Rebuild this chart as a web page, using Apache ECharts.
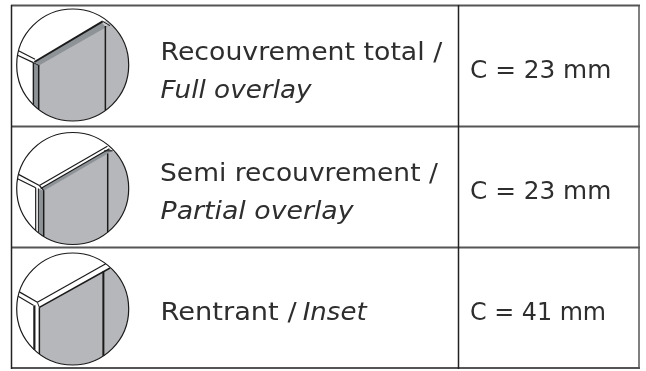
<!DOCTYPE html>
<html><head><meta charset="utf-8">
<style>html,body{margin:0;padding:0;background:#fff}#c{width:646px;height:371px}</style>
<script src="https://cdn.jsdelivr.net/npm/echarts@6/dist/echarts.min.js"></script>
</head><body><div id="c"></div>
<script>
const mainLabels = ["Recouvrement total /", "Semi recouvrement /", "Rentrant /"];
const italicLabels = ["Full overlay", "Partial overlay", "Inset"];
const clearances = ["C = 23 mm", "C = 23 mm", "C = 41 mm"];

const FONT = '"DejaVu Sans"', INK = '#1b1b1b', TXT = '#2e2e2e', DOOR = '#b6b7ba', STRIP = '#8e9398', EDGE = '#c9cbcd';
const R = 56, CX = 72.7, CY = [65, 188.5, 309];
const ZC = [[218,195],[218,205],[218,208]];

const art = [
 { polys: [
    [DOOR, [[100,188],[305,65],[335,72],[400,100],[400,370],[100,370]]],
    [STRIP,[[105,186],[305,67],[330,75],[118,196]]],
    [STRIP,[[100,190],[115,196],[115,370],[100,370]]],
    [EDGE, [[305,67],[320,60],[332,72],[316,80]]] ],
   lines: [
    [[45,147],[105,178],1.2],[[45,162],[100,188],1.2],
    [[103,186],[308,64],2],[[100,188],[100,370],1.4],[[116,196],[116,370],1.5],
    [[100,188],[118,197],1],[[316,78],[316,370],1.5],[[308,64],[330,77],1] ] },
 { polys: [
    [DOOR, [[130,212],[335,92],[400,120],[400,380],[115,380],[115,205]]],
    [STRIP,[[122,205],[328,86],[338,92],[132,212]]],
    [STRIP,[[115,205],[130,212],[130,380],[115,380]]] ],
   lines: [
    [[45,157],[118,196],1.2],[[45,172],[107,203],1.2],
    [[118,196],[322,78],1.2],[[122,205],[328,86],1.2],[[107,203],[107,380],1.2],
    [[115,205],[115,380],1],[[131,212],[131,380],1.5],[[118,196],[132,212],1.2],
    [[323,100],[323,380],1.5],[[312,92],[338,92],1] ] },
 { polys: [
    [DOOR, [[118,203],[330,85],[400,120],[400,385],[118,385]]] ],
   lines: [
    [[45,149],[112,188],1.2],[[45,164],[100,197],1.2],
    [[112,188],[318,72],1.2],[[118,203],[330,85],1.5],[[112,188],[118,203],1],
    [[103,197],[103,385],2.2],[[118,203],[118,385],1.5],[[310,95],[310,385],2] ] }
];

function clipPoly(pts, cx, cy, r) {
  const N = 180; let out = pts;
  for (let k = 0; k < N && out.length; k++) {
    const a = 2*Math.PI*k/N, nx = Math.cos(a), ny = Math.sin(a);
    const d = p => nx*(p[0]-cx) + ny*(p[1]-cy) - r;
    const res = [];
    out.forEach((p, j) => {
      const q = out[(j+1)%out.length], dp = d(p), dq = d(q);
      if (dp <= 0) res.push(p);
      if ((dp <= 0) !== (dq <= 0)) { const t = dp/(dp-dq); res.push([p[0]+t*(q[0]-p[0]), p[1]+t*(q[1]-p[1])]); }
    });
    out = res;
  }
  return out;
}
function clipLine(A, B, cx, cy, r) {
  const dx=B[0]-A[0], dy=B[1]-A[1], fx=A[0]-cx, fy=A[1]-cy;
  const a=dx*dx+dy*dy, b=2*(fx*dx+fy*dy), c=fx*fx+fy*fy-r*r, D=b*b-4*a*c;
  if (D<=0) return null;
  const s=Math.sqrt(D), t0=Math.max(0,(-b-s)/(2*a)), t1=Math.min(1,(-b+s)/(2*a));
  if (t0>=t1) return null;
  return [[A[0]+t0*dx,A[1]+t0*dy],[A[0]+t1*dx,A[1]+t1*dy]];
}

function iconGraphics(i) {
  const m = ([x, y]) => [CX + (x - ZC[i][0]) / 3, CY[i] + (y - ZC[i][1]) / 3];
  const out = [];
  art[i].polys.forEach(([c, pts]) => out.push({type:'polygon', shape:{points: clipPoly(pts.map(m), CX, CY[i], R)}, style:{fill:c}}));
  art[i].lines.forEach(([a, b, w]) => {
    const seg = clipLine(m(a), m(b), CX, CY[i], R);
    if (seg) out.push({type:'line', shape:{x1:seg[0][0],y1:seg[0][1],x2:seg[1][0],y2:seg[1][1]}, style:{stroke:INK, lineWidth:w}});
  });
  out.push({type:'circle', shape:{cx:CX, cy:CY[i], r:R}, style:{fill:'none', stroke:INK, lineWidth:1.2}});
  return out;
}

function txt(s, x, y, italic, sx) {
  return {type:'text', x, y, scaleX: sx, style:{text:s, x:0, y:0, fill:TXT, font:(italic?'italic ':'')+'400 25px '+FONT, verticalAlign:'top'}};
}
const K = 20;
const mainPos = [[160.5,60.7],[160,181.7],[160.5,321]];
const italPos = [[160.5,99],[160.5,220],[302.7,321]];
const cBase = [79, 200, 321];
const mainSX = [1.07,1.06,1.09], italSX = [1.05,1.07,1.04], cSX = [0.99,0.99,0.953];

const g = [];
[0,1,2].forEach(i => g.push(...iconGraphics(i)));
[0,1,2].forEach(i => {
  g.push(txt(mainLabels[i], mainPos[i][0], mainPos[i][1]-K, false, mainSX[i]));
  g.push(txt(italicLabels[i], italPos[i][0], italPos[i][1]-K, true, italSX[i]));
  g.push(txt(clearances[i], 470, cBase[i]-K, false, cSX[i]));
});
const L = (x1,y1,x2,y2,c,w) => ({type:'line', shape:{x1,y1,x2,y2}, style:{stroke:c, lineWidth:w}});
g.push(L(11,5.5,640,5.5,'#555',2), L(11,126.5,640,126.5,'#555',2), L(11,247.5,640,247.5,'#555',2), L(11,368,640,368,'#555',2));
g.push(L(11.5,5,11.5,369,'#222',1.5), L(458.5,5,458.5,369,'#222',1.5), L(639,5,639,369,'#555',1.5));

const chart = echarts.init(document.getElementById('c'), null, {renderer:'canvas'});
chart.setOption({animation:false, backgroundColor:'#fff', graphic:{elements:g}});
</script></body></html>
